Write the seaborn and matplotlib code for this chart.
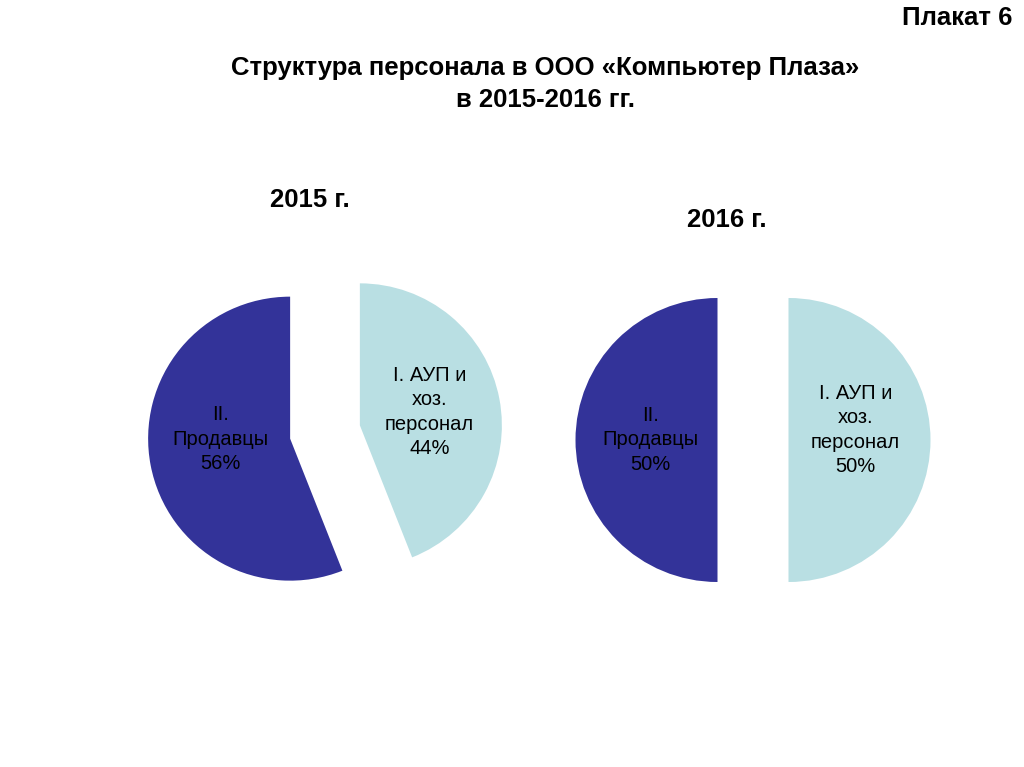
import matplotlib
matplotlib.use("Agg")
import matplotlib.pyplot as plt
import seaborn as sns

# data
categories = ["I. АУП и\nхоз.\nперсонал", "II.\nПродавцы"]
share_2015 = [44, 56]
share_2016 = [50, 50]
years = ["2015 г.", "2016 г."]

sns.set_theme(style="white")
plt.rcParams["font.family"] = ["Liberation Sans", "DejaVu Sans"]
plt.rcParams["text.color"] = "black"
narrow = ["Liberation Sans Narrow", "Liberation Sans", "DejaVu Sans"]

colors = ["#B9DFE3", "#333399"]

W, H = 1024, 767
fig = plt.figure(figsize=(W / 100, H / 100), dpi=100)
fig.patch.set_facecolor("white")

R = 142  # pie radius in px
side = 3 * R


def add_pie(cx, cy, values, labeldist, nudge):
    ax = fig.add_axes([(cx - side / 2) / W, (H - cy - side / 2) / H, side / W, side / H])
    labels = [f"{c}\n{v}%" for c, v in zip(categories, values)]
    wedges, texts = ax.pie(values, labels=labels, colors=colors, startangle=90,
                           counterclock=False, explode=[0.25, 0.25],
                           labeldistance=labeldist, wedgeprops=dict(linewidth=0),
                           textprops=dict(ha="center", va="center", ma="center",
                                          fontsize=14.5, color="black",
                                          linespacing=1.35))
    # small vertical nudges so labels sit like the original
    for t, dy in zip(texts, nudge):
        x, y = t.get_position()
        t.set_position((x, y + dy))
    ax.set_xlim(-1.5, 1.5)
    ax.set_ylim(-1.5, 1.5)
    ax.set_aspect("equal")
    ax.axis("off")
    return ax


add_pie(325, 432, share_2015, 0.5, [0.0, 0.09])
add_pie(753, 440, share_2016, 0.47, [0.07, 0.0])

title_kw = dict(fontsize=18.5, fontweight="bold", family=narrow, color="black")
fig.text(1012 / W, 1 - 18 / H, "Плакат 6", ha="right", va="center", **title_kw)
fig.text(545 / W, 1 - 68 / H, "Структура персонала в ООО «Компьютер Плаза»",
         ha="center", va="center", **title_kw)
fig.text(545 / W, 1 - 100 / H, "в 2015-2016 гг.", ha="center", va="center", **title_kw)
fig.text(310 / W, 1 - 200 / H, years[0], ha="center", va="center", **title_kw)
fig.text(727 / W, 1 - 220 / H, years[1], ha="center", va="center", **title_kw)

fig.savefig("out.png", dpi=100, facecolor="white")
